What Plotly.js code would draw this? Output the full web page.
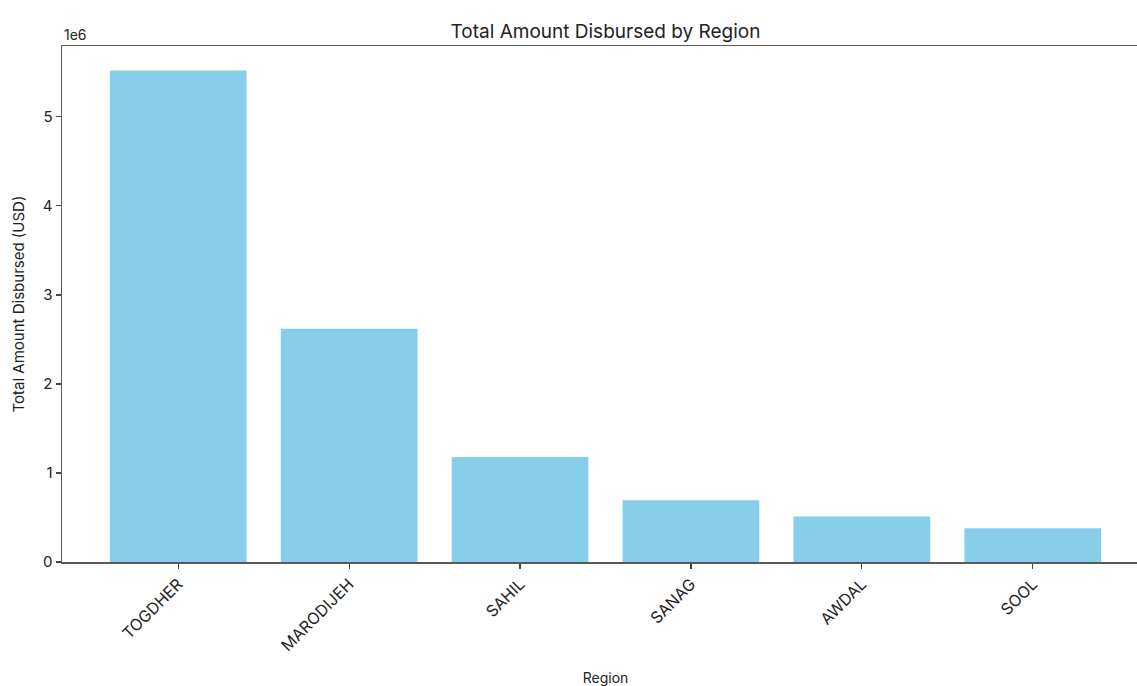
<!DOCTYPE html>
<html>
<head>
<meta charset="utf-8">
<script src="https://cdn.plot.ly/plotly-3.0.1.min.js"></script>
<style>
html,body{margin:0;padding:0;overflow:hidden;background:#fff;}
#chart{width:1152px;height:686px;}
</style>
</head>
<body>
<div id="chart"></div>
<script>
const regions = ["TOGDHER", "MARODIJEH", "SAHIL", "SANAG", "AWDAL", "SOOL"];
const amounts = [5520000, 2620000, 1180000, 695000, 510000, 380000];
const yTickVals = [0, 1000000, 2000000, 3000000, 4000000, 5000000];
const yTickText = ["0", "1", "2", "3", "4", "5"];

const fontFam = "Inter, 'DejaVu Sans', sans-serif";
const trace = {
  type: "bar",
  x: regions,
  y: amounts,
  width: 0.8,
  marker: {color: "#87CEEB", line: {width: 0}},
  hoverinfo: "x+y"
};
const layout = {
  width: 1152, height: 686,
  margin: {l: 62, r: 3, t: 46, b: 124},
  paper_bgcolor: "#fff", plot_bgcolor: "#fff",
  font: {family: fontFam, color: "#222"},
  showlegend: false,
  bargap: 0.2,
  title: {text: "Total Amount Disbursed by Region", font: {size: 19, color: "#222"}, x: 0.5, xref: "paper", y: 0.9548, yref: "container", xanchor: "center", yanchor: "middle"},
  xaxis: {
    type: "category",
    range: [-0.68, 5.68],
    showline: true, linecolor: "#5a5a5a", linewidth: 1.5, mirror: true,
    ticks: "outside", ticklen: 5, tickcolor: "#444", tickwidth: 1.2,
    tickangle: -45,
    tickfont: {size: 16, color: "#222"},
    showgrid: false, zeroline: false,
    title: {text: "Region", font: {size: 14, color: "#222"}, standoff: 22}
  },
  yaxis: {
    range: [0, 5796000],
    tickvals: yTickVals, ticktext: yTickText,
    showline: true, linecolor: "#5a5a5a", linewidth: 1.5, mirror: true,
    ticks: "outside", ticklen: 5, tickcolor: "#444", tickwidth: 1.2,
    tickfont: {size: 15, color: "#222"},
    showgrid: false, zeroline: false,
    title: {text: "Total Amount Disbursed (USD)", font: {size: 15, color: "#222"}, standoff: 14}
  },
  annotations: [{
    text: "1e6", xref: "paper", yref: "paper", x: 0, y: 1, xanchor: "left", yanchor: "bottom",
    showarrow: false, font: {size: 14, color: "#222"}, yshift: 1
  }]
};
Plotly.newPlot("chart", [trace], layout, {displayModeBar: false, staticPlot: true});
</script>
</body>
</html>
